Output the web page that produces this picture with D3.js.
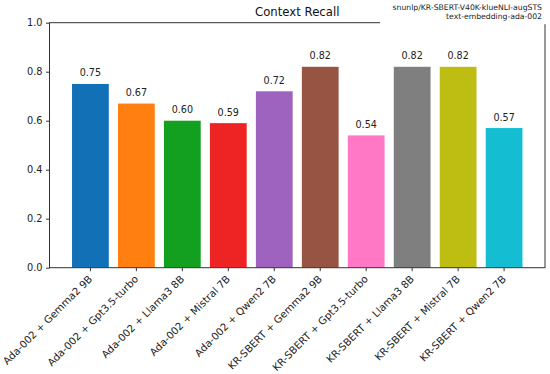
<!DOCTYPE html>
<html><head><meta charset="utf-8">
<script src="https://cdn.jsdelivr.net/npm/d3@7"></script>
<style>body{margin:0;background:#fff}svg{display:block;font-family:"DejaVu Sans",sans-serif}</style>
</head><body><svg id="c" width="550" height="374"></svg>
<script>
const categories = ["Ada-002 + Gemma2 9B","Ada-002 + Gpt3.5-turbo","Ada-002 + Llama3 8B","Ada-002 + Mistral 7B","Ada-002 + Qwen2 7B","KR-SBERT + Gemma2 9B","KR-SBERT + Gpt3.5-turbo","KR-SBERT + Llama3 8B","KR-SBERT + Mistral 7B","KR-SBERT + Qwen2 7B"];
const values = [0.75,0.67,0.60,0.59,0.72,0.82,0.54,0.82,0.82,0.57];
const colors = ["#1170b6","#ff8010","#13a020","#ee2424","#9d63be","#985443","#ff78c6","#7f7f7f","#bdbd12","#14bdd2"];
const yTicks = [0.0,0.2,0.4,0.6,0.8,1.0];
const title = "Context Recall";
const legendLines = ["snunlp/KR-SBERT-V40K-klueNLI-augSTS","text-embedding-ada-002"];

const L=49.5, R=545, T=22.7, B=267.7;
const svg=d3.select("#c");
const x=d3.scaleBand().domain(categories).range([L,R]).paddingInner(0.2).paddingOuter(0.49);
const y=d3.scaleLinear().domain([0,1]).range([B,T]);

svg.append("g").selectAll("rect").data(values).join("rect")
 .attr("x",(d,i)=>x(categories[i])).attr("width",x.bandwidth())
 .attr("y",d=>y(d)).attr("height",d=>B-y(d)).attr("fill",(d,i)=>colors[i]);

svg.append("g").selectAll("text").data(values).join("text")
 .attr("x",(d,i)=>x(categories[i])+x.bandwidth()/2).attr("y",d=>y(d)-7.5)
 .attr("text-anchor","middle").attr("font-size",9.6).attr("fill","#222").text(d=>d.toFixed(2));

// frame
svg.append("rect").attr("x",L).attr("y",T).attr("width",R-L).attr("height",B-T)
 .attr("fill","none").attr("stroke","#333").attr("stroke-width",1);

const ya=svg.append("g").attr("transform",`translate(${L},0)`)
 .call(d3.axisLeft(y).tickValues(yTicks).tickFormat(d3.format(".1f")).tickSizeOuter(0).tickSize(3.5).tickPadding(3.5));
ya.select(".domain").remove();
ya.selectAll("text").attr("font-size",9.8).attr("fill","#222").attr("font-family","DejaVu Sans");
ya.selectAll("line").attr("stroke","#333");

const xa=svg.append("g").attr("transform",`translate(0,${B})`)
 .call(d3.axisBottom(x).tickSizeOuter(0).tickSize(3.5));
xa.select(".domain").remove();
xa.selectAll("line").attr("stroke","#333");
xa.selectAll("text").attr("font-size",10.2).attr("fill","#222").attr("font-family","DejaVu Sans")
 .attr("text-anchor","end").attr("dy",0).attr("y",0)
 .attr("transform","translate(2.5,12) rotate(-45)");

svg.append("text").attr("x",(L+R)/2).attr("y",16).attr("text-anchor","middle")
 .attr("font-size",11.7).attr("fill","#111").text(title);

// legend box (covers top spine)
svg.append("rect").attr("x",380).attr("y",0).attr("width",170).attr("height",T+1.5).attr("fill","#fff");
svg.append("g").selectAll("text").data(legendLines).join("text")
 .attr("x",542).attr("y",(d,i)=>10+i*9.4).attr("text-anchor","end")
 .attr("font-size",7.7).attr("fill","#222").text(d=>d);
</script></body></html>
